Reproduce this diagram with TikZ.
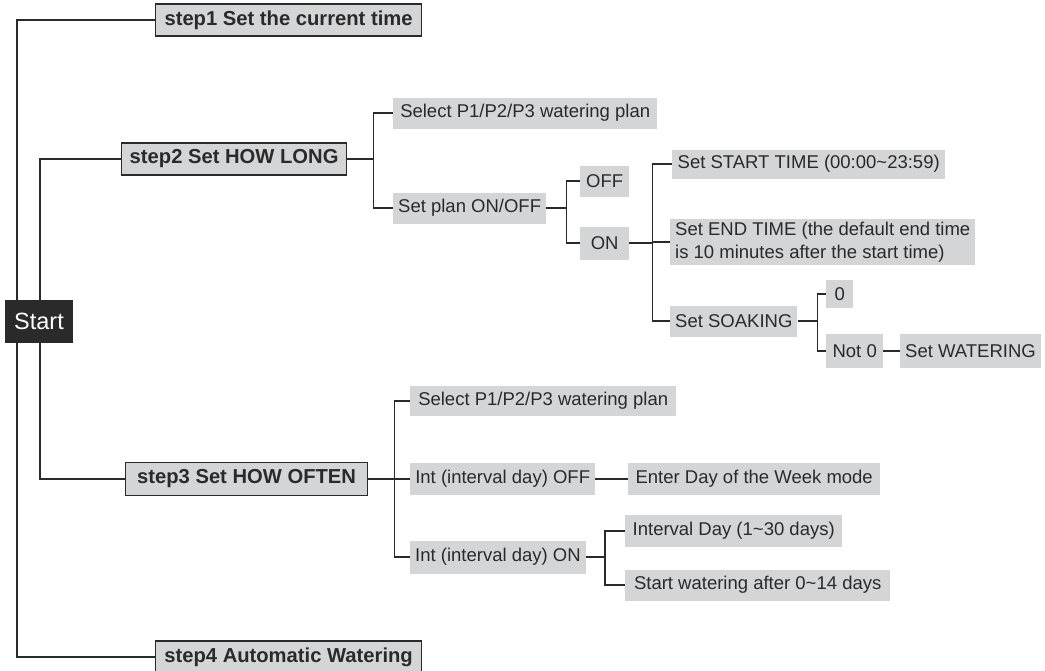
\documentclass[tikz,border=0pt]{standalone}
\usepackage{fontspec}
\setmainfont{Liberation Sans}
\usepackage{xcolor}
\usetikzlibrary{backgrounds}
\definecolor{boxgray}{HTML}{D4D5D7}
\definecolor{inkdark}{HTML}{2A2A2A}

\begin{document}
\begin{tikzpicture}[x=1pt,y=-1pt,
  stepbox/.style={draw=inkdark, line width=1.2pt, fill=boxgray, text=inkdark,
    font=\fontsize{20.2}{22}\selectfont\bfseries, anchor=west, inner xsep=6pt, minimum height=32pt},
  leafbox/.style={fill=boxgray, text=inkdark, font=\fontsize{18.5}{23}\selectfont,
    anchor=west, inner xsep=5pt, minimum height=31pt},
  startbox/.style={fill=inkdark, text=white, font=\fontsize{23.5}{25}\selectfont,
    minimum width=68pt, minimum height=43pt, inner sep=0pt},
  link/.style={draw=inkdark, line width=1.4pt}]
\useasboundingbox (0,0) rectangle (1045,670);

% Main steps
\node[startbox] (start) at (39,321) {Start};
\node[stepbox, minimum width=266pt] (s1) at (155,20) {step1 Set the current time};
\node[stepbox, minimum width=225pt] (s2) at (121,159) {step2 Set HOW LONG};
\node[stepbox, minimum width=242pt, minimum height=33pt] (s3) at (125,479) {step3 Set HOW OFTEN};
\node[stepbox, minimum width=266pt] (s4) at (155,657) {step4 Automatic Watering};

% step2 branch
\node[leafbox, minimum width=264pt] (p2sel) at (393,113) {Select P1/P2/P3 watering plan};
\node[leafbox, minimum width=150pt] (p2onoff) at (393,208) {Set plan ON/OFF};
\node[leafbox, minimum width=49pt] (off) at (580,181) {OFF};
\node[leafbox, minimum width=49pt, minimum height=33pt] (on) at (580,243) {ON};
\node[leafbox, minimum width=273pt, minimum height=29pt] (stime) at (672,164) {Set START TIME (00:00\textasciitilde 23:59)};
\node[leafbox, minimum width=304pt, align=left, inner ysep=3pt] (etime) at (670,242)
  {Set END TIME (the default end time\\is 10 minutes after the start time)};
\node[leafbox, minimum width=120pt] (soak) at (670,321) {Set SOAKING};
\node[leafbox, minimum width=27pt, minimum height=28pt] (zero) at (826,294) {0};
\node[leafbox, minimum width=57pt, minimum height=34pt] (nzero) at (826,351) {Not 0};
\node[leafbox, minimum width=137pt, minimum height=34pt] (water) at (900,351) {Set WATERING};

% step3 branch
\node[leafbox, minimum width=266pt, minimum height=30pt] (p3sel) at (410,401) {Select P1/P2/P3 watering plan};
\node[leafbox, minimum width=185pt, minimum height=32pt] (intoff) at (410,479) {Int (interval day) OFF};
\node[leafbox, minimum width=252pt, minimum height=32pt] (week) at (628,479) {Enter Day of the Week mode};
\node[leafbox, minimum width=171pt, minimum height=33pt] (inton) at (410,557) {Int (interval day) ON};
\node[leafbox, minimum width=217pt, minimum height=32pt] (iday) at (625,531) {Interval Day (1\textasciitilde 30 days)};
\node[leafbox, minimum width=265pt, minimum height=31pt] (iafter) at (625,585) {Start watering after 0\textasciitilde 14 days};

% Connectors behind the boxes
\begin{scope}[on background layer]
\coordinate (busA) at (17,321);
\coordinate (busB) at (40,321);
\draw[link] (s1.west) -| (busA) |- (s4.west);
\draw[link] (s2.west) -| (busB) |- (s3.west);
% step2
\draw[link] (s2.east) -- ++(26,0) coordinate (b2) |- (p2sel.west);
\draw[link] (b2) |- (p2onoff.west);
\draw[link] (p2onoff.east) -- ++(20,0) coordinate (b3) |- (off.west);
\draw[link] (b3) |- (on.west);
\draw[link] (on.east) -- ++(23,0) coordinate (b4) |- (stime.west);
\draw[link] (b4) |- (etime.west);
\draw[link] (b4) |- (soak.west);
\draw[link] (soak.east) -- ++(20,0) coordinate (b5) |- (zero.west);
\draw[link] (b5) |- (nzero.west);
\draw[link] (nzero) -- (water);
% step3
\draw[link] (s3.east) -- ++(26,0) coordinate (b6) |- (p3sel.west);
\draw[link] (b6) |- (intoff.west);
\draw[link] (b6) |- (inton.west);
\draw[link] (intoff) -- (week);
\draw[link] (inton.east) -- ++(19,0) coordinate (b7) |- (iday.west);
\draw[link] (b7) |- (iafter.west);
\end{scope}
\end{tikzpicture}
\end{document}
